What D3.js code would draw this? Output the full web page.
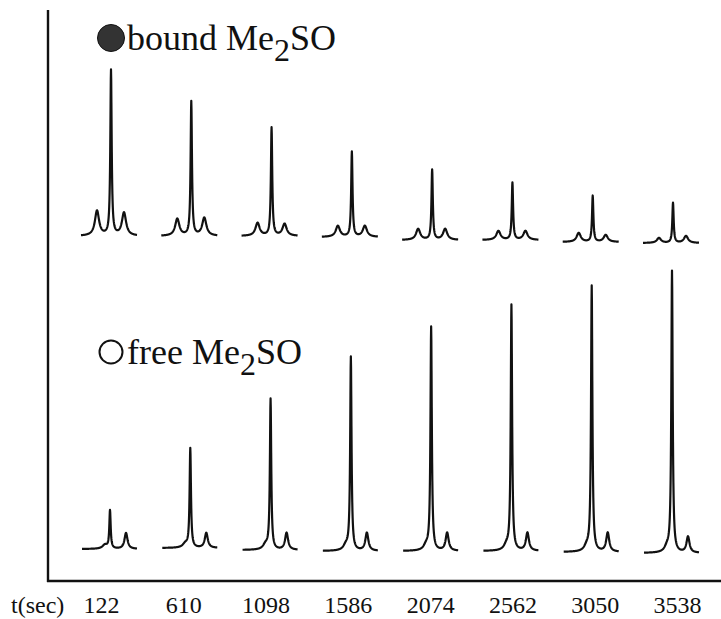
<!DOCTYPE html>
<html>
<head>
<meta charset="utf-8">
<script src="https://cdn.jsdelivr.net/npm/d3@7"></script>
<style>
  html, body { margin: 0; padding: 0; background: #fff; }
  svg { display: block; }
  text { font-family: "Liberation Serif", "DejaVu Serif", serif; fill: #111; }
</style>
</head>
<body>
<svg id="chart" width="721" height="619"></svg>
<script>
// ---------- data ----------
const times = ["122", "610", "1098", "1586", "2074", "2562", "3050", "3538"];
// bound Me2SO: central line and its two satellites (intensity, arbitrary units)
const boundMain     = [165, 134, 108, 85, 70, 57, 46, 40];
const boundLeftSat  = [25, 17, 13, 11, 11, 9, 9, 5];
const boundRightSat = [23, 18, 12, 11, 11, 9, 7, 7];
const boundBaseline = [0, 0, 0, -1, -4, -4, -6, -7];
// free Me2SO: central line, small shoulder, and right satellite
const freeMain      = [38, 99, 150, 193, 223, 245, 265, 281];
const freeShoulder  = [4, 4, 5, 5, 5, 5, 5, 5];
const freeSat       = [16, 15, 17, 18, 18, 18, 19, 16];
const freeBaseline  = [0, 1, -1, -2, -2, -2, -3, -4];
// line offsets (Hz) relative to the central line
const boundOffsets = { left: -14, main: 0, right: 13 };
const freeOffsets  = { shoulder: -5, main: 0, right: 16 };

// ---------- layout ----------
const svg = d3.select("#chart");
const W = 721, H = 619;
const axisX = 48, axisTop = 10, axisBottomY = 581;

const xCenter = d3.scalePoint().domain(times).range([111, 673]);
const xLabel  = d3.scalePoint().domain(times).range([101, 677]);
const yBound = d3.scaleLinear().domain([0, 200]).range([236, 36]);
const yFree  = d3.scaleLinear().domain([0, 300]).range([549, 249]);
const local  = d3.scaleLinear().domain([-30, 30]).range([-30, 30]);

function lor(x, x0, h, w) { return h * w * w / ((x - x0) * (x - x0) + w * w); }

function boundTrace(i) {
  return d3.range(-30, 26.01, 0.2).map(o => [o,
    boundBaseline[i]
    + lor(o, boundOffsets.main, boundMain[i], 0.8)
    + lor(o, boundOffsets.left, boundLeftSat[i], 2.5)
    + lor(o, boundOffsets.right, boundRightSat[i], 2.5)]);
}
function freeTrace(i) {
  return d3.range(-28, 27.01, 0.2).map(o => [o,
    freeBaseline[i]
    + lor(o, freeOffsets.main, freeMain[i], 0.8)
    + lor(o, freeOffsets.shoulder, freeShoulder[i], 3)
    + lor(o, freeOffsets.right, freeSat[i], 1.8)]);
}

// ---------- frame ----------
svg.append("line").attr("x1", axisX).attr("x2", axisX).attr("y1", axisTop).attr("y2", axisBottomY + 1)
  .attr("stroke", "#111").attr("stroke-width", 2.4);
svg.append("line").attr("x1", axisX - 1).attr("x2", W).attr("y1", axisBottomY).attr("y2", axisBottomY)
  .attr("stroke", "#111").attr("stroke-width", 2.4);

// ---------- spectra ----------
times.forEach((t, i) => {
  const cx = xCenter(t);
  const lb = d3.line().x(d => cx + local(d[0])).y(d => yBound(d[1]));
  svg.append("path").attr("d", lb(boundTrace(i)))
    .attr("fill", "none").attr("stroke", "#111").attr("stroke-width", 2.2).attr("stroke-linejoin", "round");
  const lf = d3.line().x(d => cx - 1 + local(d[0])).y(d => yFree(d[1]));
  svg.append("path").attr("d", lf(freeTrace(i)))
    .attr("fill", "none").attr("stroke", "#111").attr("stroke-width", 2.2).attr("stroke-linejoin", "round");
});

// ---------- bottom labels ----------
const ax = d3.axisBottom(xLabel).tickSize(0).tickPadding(0);
const g = svg.append("g").attr("transform", `translate(0, ${axisBottomY + 15})`).call(ax);
g.select(".domain").remove();
g.selectAll("text").attr("font-size", 24).attr("dy", "0.71em")
  .style("font-family", "'Liberation Serif', serif").attr("fill", "#111");
svg.append("text").attr("x", 11).attr("y", 613).attr("font-size", 24).text("t(sec)");

// ---------- legends ----------
function legend(y, filled, label) {
  svg.append("circle").attr("cx", 111).attr("cy", y - 12).attr("r", filled ? 13.5 : 11.5)
    .attr("fill", filled ? "#333" : "#fff").attr("stroke", "#111").attr("stroke-width", filled ? 1 : 2);
  const tx = svg.append("text").attr("x", 127).attr("y", y).attr("font-size", 36);
  tx.append("tspan").text(label + " Me");
  tx.append("tspan").attr("dy", 11).attr("font-size", 32).text("2");
  tx.append("tspan").attr("dy", -11).text("SO");
}
legend(50, true, "bound");
legend(364, false, "free");
</script>
</body>
</html>
